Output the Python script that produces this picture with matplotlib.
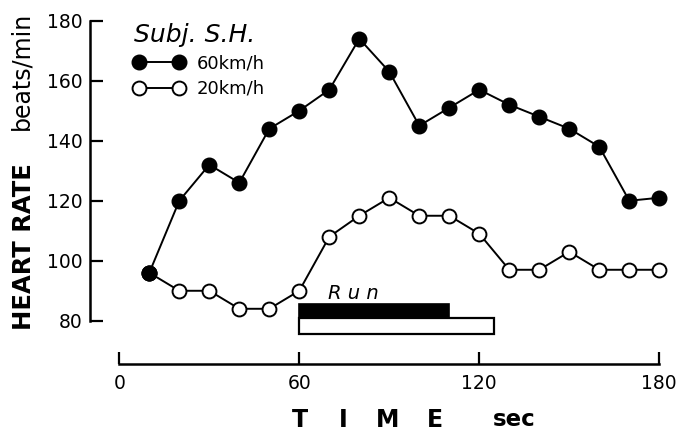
import numpy as np
import matplotlib.pyplot as plt
from matplotlib.lines import Line2D

# time points (sec) and heart rate (beats/min)
timeSec = [10, 20, 30, 40, 50, 60, 70, 80, 90, 100, 110, 120, 130, 140, 150, 160, 170, 180]
hr60 = [96, 120, 132, 126, 144, 150, 157, 174, 163, 145, 151, 157, 152, 148, 144, 138, 120, 121]
hr20 = [96, 90, 90, 84, 84, 90, 108, 115, 121, 115, 115, 109, 97, 97, 103, 97, 97, 97]

# running periods (sec)
runStart = 60
runEnd60 = 110
runEnd20 = 125

yTicks = [80, 100, 120, 140, 160, 180]
xTicks = [0, 60, 120, 180]


def Plot():
    fig = plt.figure(figsize=(6.77, 4.32), dpi=100)
    ax = fig.add_axes([0.1328, 0.1574, 0.8632, 0.8086])
    ax.set_xlim(-9.8, 185)
    ax.set_ylim(65.6, 182)

    #Heart rate curves
    ax.plot(timeSec, hr20, color='black', linewidth=1.4, marker='o', markersize=10,
            markerfacecolor='white', markeredgecolor='black', markeredgewidth=1.4, zorder=3)
    ax.plot(timeSec[:1], hr20[:1], linestyle='none', marker='o', markersize=10.5,
            markerfacecolor='black', markeredgecolor='black', zorder=4)
    ax.plot(timeSec, hr60, color='black', linewidth=1.4, marker='o', markersize=10.5,
            markerfacecolor='black', markeredgecolor='black', zorder=4)

    #Run bars
    ax.barh(83.3, runEnd60 - runStart, left=runStart, height=4.6, color='black',
            edgecolor='black', linewidth=1.2)
    ax.barh(78.3, runEnd20 - runStart, left=runStart, height=5.4, color='white',
            edgecolor='black', linewidth=1.6)
    ax.text(69.5, 89.2, 'R u n', fontsize=14, style='italic', va='center', ha='left')

    #Axes
    for side in ['top', 'right']:
        ax.spines[side].set_visible(False)
    ax.spines['left'].set_bounds(80, 180)
    ax.spines['bottom'].set_bounds(0, 180)
    ax.spines['left'].set_linewidth(1.8)
    ax.spines['bottom'].set_linewidth(1.8)
    ax.set_yticks(yTicks)
    ax.set_xticks(xTicks)
    ax.tick_params(axis='both', direction='in', length=9, width=1.6, labelsize=13.5)
    ax.tick_params(axis='y', pad=5.5)
    ax.tick_params(axis='x', pad=7)

    #Legend
    handles = [
        Line2D([], [], color='black', linewidth=1.4, marker='o', markersize=10.5,
               markerfacecolor='black', markeredgecolor='black'),
        Line2D([], [], color='black', linewidth=1.4, marker='o', markersize=10,
               markerfacecolor='white', markeredgecolor='black', markeredgewidth=1.4),
    ]
    leg = ax.legend(handles, ['60km/h', '20km/h'], title='Subj. S.H.', loc='upper left',
                    bbox_to_anchor=(0.075, 0.975), frameon=False, numpoints=2,
                    handlelength=2.8, handletextpad=0.7, borderpad=0, borderaxespad=0,
                    labelspacing=0.4, fontsize=13, alignment='left')
    leg.get_title().set_fontsize(18)
    leg.get_title().set_style('italic')

    #Labels
    fig.text(0.0355, 0.430, 'HEART RATE', rotation=90, fontsize=17.5, fontweight='bold',
             ha='center', va='center')
    fig.text(0.031, 0.835, 'beats/min', rotation=90, fontsize=17, ha='center', va='center')
    for letter, xPix in zip('TIME', [300, 343, 388, 435]):
        fig.text(xPix / 677, 0.028, letter, fontsize=17, fontweight='bold',
                 ha='center', va='center')
    fig.text(0.728, 0.028, 'sec', fontsize=16.5, fontweight='bold', ha='left', va='center')

    fig.savefig('out.png', dpi=100)


Plot()
